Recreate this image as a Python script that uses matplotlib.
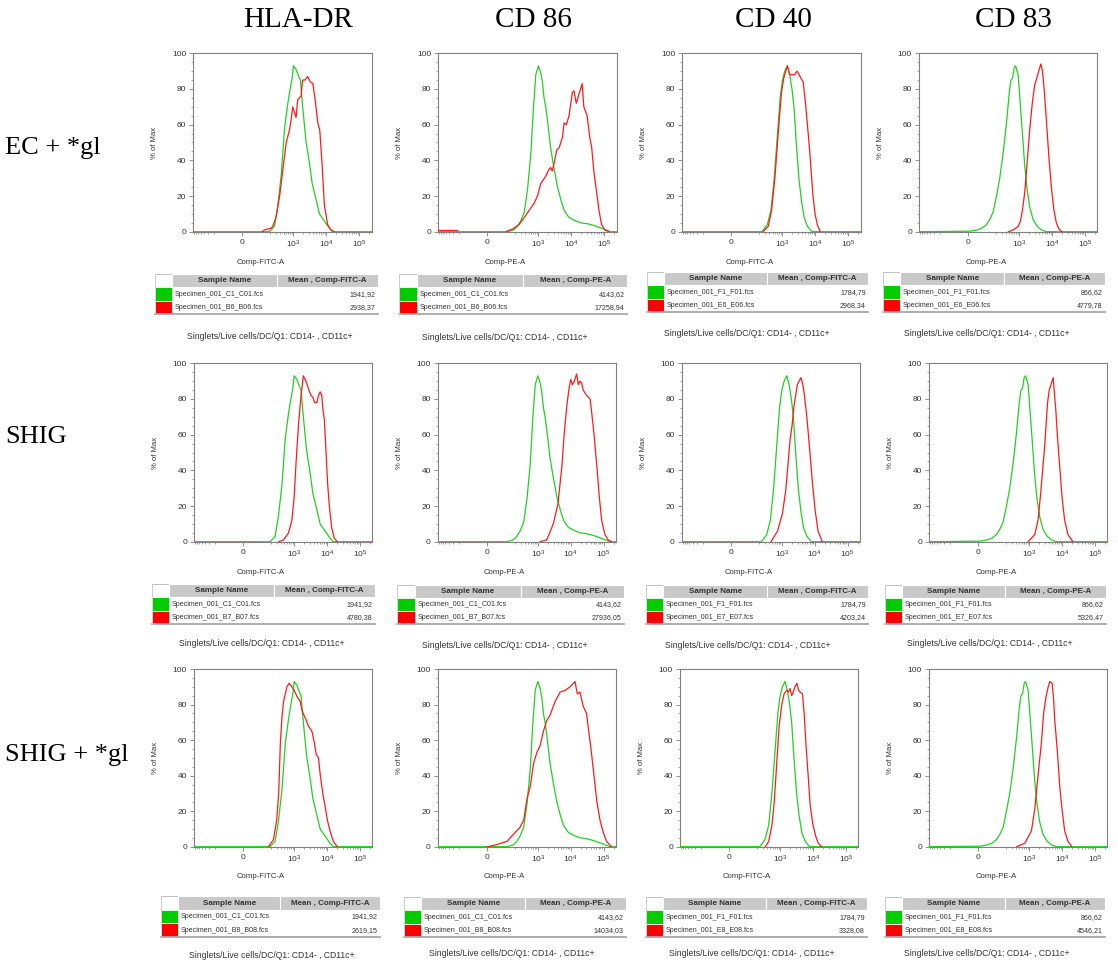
import numpy as np
import matplotlib
matplotlib.use('Agg')
import matplotlib.pyplot as plt
from matplotlib.ticker import MultipleLocator, SymmetricalLogLocator
from matplotlib.patches import Rectangle

# ---------------- data ----------------
markers = ['HLA-DR', 'CD 86', 'CD 40', 'CD 83']
conditions = ['EC + *gl', 'SHIG', 'SHIG + *gl']
channel_labels = ['Comp-FITC-A', 'Comp-PE-A', 'Comp-FITC-A', 'Comp-PE-A']
x_tick_values = [0, 1e3, 1e4, 1e5]
x_tick_labels = ['0', '$10^3$', '$10^4$', '$10^5$']
gate_caption = 'Singlets/Live cells/DC/Q1: CD14- , CD11c+'

# control (green) histograms: log10 intensity and % of max
hla_ctrl_logx = [2.27, 2.42, 2.52, 2.63, 2.73, 2.83, 2.90, 2.96, 3.00, 3.08, 3.16, 3.21, 3.28, 3.38, 3.49, 3.57, 3.69, 3.79, 3.94, 4.09, 4.19]
hla_ctrl_pct = [0, 3, 14, 32, 58, 72, 80, 86, 93, 91, 87, 85, 70, 51, 38, 27, 18, 10, 6, 2, 0]
cd86_ctrl_logx = [2.06, 2.25, 2.36, 2.46, 2.57, 2.67, 2.77, 2.85, 2.92, 3.00, 3.07, 3.12, 3.17, 3.22, 3.29, 3.37, 3.47, 3.58, 3.68, 3.78, 3.93, 4.08, 4.28, 4.48, 4.69, 4.89, 5.09, 5.19]
cd86_ctrl_pct = [0, 1, 3, 6, 11, 24, 44, 70, 88, 93, 89, 84, 75, 70, 60, 47, 36, 25, 18, 12, 8, 6.5, 5, 4.5, 3.5, 2.2, 0.8, 0]
cd40_ctrl_logx = [2.38, 2.54, 2.65, 2.75, 2.85, 2.93, 3.00, 3.07, 3.15, 3.22, 3.29, 3.35, 3.42, 3.50, 3.58, 3.66, 3.76, 3.90]
cd40_ctrl_pct = [0, 4, 12, 30, 55, 75, 85, 90, 93, 88, 80, 70, 50, 30, 17, 8, 3, 0]
cd83_ctrl_logx = [1.10, 1.69, 1.88, 2.01, 2.11, 2.21, 2.31, 2.41, 2.52, 2.62, 2.70, 2.75, 2.80, 2.85, 2.89, 2.97, 3.04, 3.10, 3.17, 3.24, 3.32, 3.42, 3.55, 3.68, 3.83]
cd83_ctrl_pct = [0.3, 1, 2, 4, 7, 11, 20, 30, 45, 62, 78, 85, 86, 92, 93, 88, 70, 55, 37, 24, 14, 7, 3, 1, 0]

# stimulated (red) histograms
hla_ec_logx = [2.05, 2.12, 2.32, 2.37, 2.47, 2.58, 2.68, 2.78, 2.88, 2.93, 2.98, 3.03, 3.08, 3.13, 3.23, 3.28, 3.35, 3.43, 3.51, 3.59, 3.66, 3.74, 3.80, 3.87, 3.94, 4.04, 4.14, 4.24]
hla_ec_pct = [0, 1, 2, 3, 8, 20, 35, 50, 57, 63, 70, 67, 64, 74, 76, 85, 85, 87, 84, 83, 74, 61, 57, 38, 15, 4, 1, 0]
cd86_ec_logx = [2.01, 2.21, 2.41, 2.57, 2.72, 2.87, 2.97, 3.07, 3.22, 3.32, 3.37, 3.42, 3.47, 3.56, 3.63, 3.73, 3.78, 3.85, 3.93, 4.03, 4.08, 4.15, 4.23, 4.33, 4.38, 4.48, 4.56, 4.62, 4.69, 4.77, 4.84, 4.92, 5.02, 5.14]
cd86_ec_pct = [0, 1.5, 4, 8, 12, 16, 20, 27, 31, 35, 36, 34, 38, 46, 47, 53, 61, 60, 65, 78, 79, 72, 77, 83, 70, 65, 53, 47, 33, 22, 12, 4, 1, 0]
cd86_ec_neg_x = [-850, -230]
cd86_ec_neg_pct = [0.8, 0.8]
cd40_ec_logx = [2.41, 2.57, 2.67, 2.77, 2.87, 2.97, 3.04, 3.10, 3.15, 3.22, 3.30, 3.37, 3.44, 3.51, 3.56, 3.63, 3.70, 3.76, 3.83, 3.88, 3.93, 3.99, 4.06, 4.15]
cd40_ec_pct = [0, 3, 12, 30, 55, 78, 86, 90, 93, 88, 88, 88, 90, 88, 86, 84, 72, 60, 45, 32, 20, 10, 4, 0]
cd83_ec_logx = [2.67, 2.82, 2.97, 3.04, 3.10, 3.17, 3.24, 3.32, 3.40, 3.47, 3.55, 3.61, 3.66, 3.71, 3.76, 3.83, 3.90, 3.98, 4.06, 4.13, 4.21, 4.30]
cd83_ec_pct = [0, 1, 3, 6, 12, 22, 38, 57, 72, 82, 87, 91, 94, 90, 80, 62, 43, 25, 12, 5, 1.5, 0]

hla_shig_logx = [2.53, 2.68, 2.83, 2.93, 3.00, 3.06, 3.13, 3.20, 3.28, 3.33, 3.38, 3.43, 3.51, 3.57, 3.62, 3.69, 3.74, 3.79, 3.84, 3.87, 3.92, 3.97, 4.02, 4.07, 4.14, 4.22, 4.31]
hla_shig_pct = [0, 1, 5, 12, 25, 45, 65, 80, 93, 91, 89, 86, 82, 81, 78, 78, 82, 84, 82, 75, 68, 50, 32, 20, 8, 2, 0]
cd86_shig_logx = [3.07, 3.27, 3.47, 3.61, 3.73, 3.80, 3.88, 3.95, 4.00, 4.05, 4.11, 4.18, 4.23, 4.28, 4.33, 4.38, 4.48, 4.59, 4.64, 4.71, 4.79, 4.87, 4.94, 5.04, 5.14, 5.24]
cd86_shig_pct = [0, 1, 10, 21, 42, 60, 76, 86, 91, 88, 90, 94, 88, 90, 89, 85, 82, 80, 72, 60, 43, 25, 12, 4, 1, 0]
cd40_shig_logx = [2.67, 2.87, 3.02, 3.12, 3.19, 3.25, 3.31, 3.37, 3.47, 3.58, 3.63, 3.68, 3.76, 3.85, 3.93, 4.01, 4.10, 4.23]
cd40_shig_pct = [0, 6, 16, 29, 44, 57, 65, 76, 88, 92, 89, 83, 70, 51, 33, 18, 6, 0]
cd83_shig_logx = [2.97, 3.17, 3.27, 3.34, 3.40, 3.47, 3.56, 3.61, 3.68, 3.73, 3.76, 3.81, 3.86, 3.93, 4.00, 4.08, 4.18, 4.33]
cd83_shig_pct = [0, 4, 12, 25, 38, 53, 78, 85, 89, 92, 85, 74, 59, 42, 25, 12, 4, 0]

hla_shiggl_logx = [2.22, 2.37, 2.47, 2.53, 2.58, 2.63, 2.68, 2.78, 2.85, 2.93, 3.00, 3.10, 3.18, 3.25, 3.35, 3.43, 3.54, 3.61, 3.67, 3.74, 3.79, 3.87, 3.94, 4.01, 4.09, 4.19, 4.31]
hla_shiggl_pct = [0, 4, 15, 30, 58, 73, 82, 90, 92, 90, 88, 84, 82, 76, 72, 68, 65, 59, 52, 50, 41, 30, 23, 15, 9, 3, 0]
cd86_shiggl_logx = [0.56, 1.69, 2.06, 2.26, 2.46, 2.57, 2.67, 2.77, 2.87, 2.97, 3.07, 3.17, 3.27, 3.37, 3.53, 3.68, 3.83, 3.98, 4.13, 4.20, 4.28, 4.38, 4.48, 4.54, 4.61, 4.69, 4.79, 4.89, 4.99, 5.09, 5.24]
cd86_shiggl_pct = [0, 1, 3, 7, 11, 15, 27, 34, 47, 53, 57, 65, 71, 74, 82, 87, 88, 90, 93, 86, 87, 79, 75, 66, 56, 43, 26, 15, 8, 3, 0]
cd40_shiggl_logx = [2.55, 2.65, 2.75, 2.82, 2.90, 2.97, 3.05, 3.12, 3.20, 3.25, 3.30, 3.35, 3.40, 3.45, 3.51, 3.56, 3.61, 3.68, 3.73, 3.79, 3.86, 3.91, 3.99, 4.08, 4.16, 4.26]
cd40_shiggl_pct = [0, 3, 12, 25, 48, 68, 80, 86, 88, 87, 89, 85, 87, 90, 92, 88, 87, 86, 75, 56, 38, 24, 13, 6, 2, 0]
cd83_shiggl_logx = [2.62, 2.87, 3.07, 3.17, 3.27, 3.37, 3.44, 3.51, 3.58, 3.63, 3.70, 3.74, 3.78, 3.86, 3.93, 4.00, 4.08, 4.18, 4.30]
cd83_shiggl_pct = [0, 2, 9, 21, 40, 58, 75, 84, 90, 93, 92, 84, 71, 53, 34, 21, 9, 3, 0]

# table contents
ctrl_files = ['Specimen_001_C1_C01.fcs', 'Specimen_001_C1_C01.fcs', 'Specimen_001_F1_F01.fcs', 'Specimen_001_F1_F01.fcs']
ctrl_means = [1941.92, 4143.62, 1784.79, 866.62]
stim_files = [
    ['Specimen_001_B6_B06.fcs', 'Specimen_001_B6_B06.fcs', 'Specimen_001_E6_E06.fcs', 'Specimen_001_E6_E06.fcs'],
    ['Specimen_001_B7_B07.fcs', 'Specimen_001_B7_B07.fcs', 'Specimen_001_E7_E07.fcs', 'Specimen_001_E7_E07.fcs'],
    ['Specimen_001_B8_B08.fcs', 'Specimen_001_B8_B08.fcs', 'Specimen_001_E8_E08.fcs', 'Specimen_001_E8_E08.fcs'],
]
stim_means = [
    [2938.37, 17258.94, 2968.34, 4779.78],
    [4780.38, 27936.05, 4203.24, 5326.47],
    [2619.15, 14034.03, 3328.08, 4546.21],
]

ctrl_curves = [(hla_ctrl_logx, hla_ctrl_pct), (cd86_ctrl_logx, cd86_ctrl_pct),
               (cd40_ctrl_logx, cd40_ctrl_pct), (cd83_ctrl_logx, cd83_ctrl_pct)]
stim_curves = [
    [(hla_ec_logx, hla_ec_pct), (cd86_ec_logx, cd86_ec_pct), (cd40_ec_logx, cd40_ec_pct), (cd83_ec_logx, cd83_ec_pct)],
    [(hla_shig_logx, hla_shig_pct), (cd86_shig_logx, cd86_shig_pct), (cd40_shig_logx, cd40_shig_pct), (cd83_shig_logx, cd83_shig_pct)],
    [(hla_shiggl_logx, hla_shiggl_pct), (cd86_shiggl_logx, cd86_shiggl_pct), (cd40_shiggl_logx, cd40_shiggl_pct), (cd83_shiggl_logx, cd83_shiggl_pct)],
]

# ---------------- style / layout ----------------
plt.rcParams['font.family'] = ['Liberation Sans', 'DejaVu Sans']
plt.rcParams['mathtext.fontset'] = 'custom'
plt.rcParams['mathtext.rm'] = 'Liberation Sans'
plt.rcParams['mathtext.it'] = 'Liberation Sans:italic'
plt.rcParams['mathtext.bf'] = 'Liberation Sans:bold'

GREEN = '#22d022'
RED = '#ff1a1a'
SW_GREEN = '#00cc00'
SW_RED = '#ff0000'
SPINE = '#808080'
TXT = '#333333'

W, H = 1118, 963
fig = plt.figure(figsize=(W / 100, H / 100), dpi=100)


def frect(x0, y0, x1, y1):
    return [x0 / W, 1 - y1 / H, (x1 - x0) / W, (y1 - y0) / H]


ax_tops = [53.3, 363.3, 669.0]
ax_bots = [231.7, 541.7, 846.7]
ax_lefts = [[193.3, 438.3, 682.3, 919.0],
            [194.0, 437.7, 681.7, 929.0],
            [194.0, 437.7, 680.0, 929.0]]
AXW = 178.4

table_boxes = [
    [(155, 378, 274, 314), (399, 627, 274, 314), (647, 868, 272, 312), (883, 1105, 272, 312)],
    [(152, 375, 584, 624), (397, 624, 585, 624), (646, 868, 585, 624), (885, 1106, 585, 624)],
    [(161, 380, 896, 937), (404, 626, 897, 937), (646, 867, 897, 937), (885, 1105, 897, 937)],
]
caption_pos = [
    [(270, 336), (505, 338), (747, 334), (987, 333)],
    [(262, 644), (505, 645), (748, 645), (990, 644)],
    [(272, 955), (512, 953), (752, 953), (987, 953)],
]
title_pos = [(298, 20), (533, 20), (773, 20), (1013, 20)]
row_label_y = [148, 437, 755]

XLO, XHI = -860, 10 ** 5.38


def fmt_mean(v):
    return f'{v:.2f}'.replace('.', ',')


def draw_table(box, header, rows):
    x0, x1, y0, y1 = box
    tax = fig.add_axes(frect(x0, y0, x1, y1))
    tax.set_xlim(0, 1)
    tax.set_ylim(3, 0)
    tax.axis('off')
    c1, c2 = 0.078, 0.545
    tax.add_patch(Rectangle((0, 0), c1, 1, fc='white', ec='#b5b5b5', lw=0.6))
    tax.add_patch(Rectangle((c1, 0), c2 - c1, 1, fc='#c9c9c9', ec='white', lw=0.8))
    tax.add_patch(Rectangle((c2, 0), 1 - c2, 1, fc='#c9c9c9', ec='white', lw=0.8))
    tax.text((c1 + c2) / 2, 0.52, 'Sample Name', ha='center', va='center',
             fontsize=5.9, fontweight='bold', color=TXT)
    tax.text((c2 + 1) / 2, 0.52, header, ha='center', va='center',
             fontsize=5.8, fontweight='bold', color=TXT)
    for i, (col, name, val) in enumerate(rows):
        yy = i + 1
        tax.add_patch(Rectangle((0, yy), c1, 1, fc=col, ec='white', lw=0.6))
        tax.text(c1 + 0.012, yy + 0.52, name, ha='left', va='center', fontsize=5.1, color=TXT)
        tax.text(0.99, yy + 0.52, val, ha='right', va='center', fontsize=5.1, color=TXT)
    tax.plot([0, 1], [3, 3], color='#a8a8a8', lw=1.3, clip_on=False)
    tax.plot([0, 0], [0, 3], color='#d0d0d0', lw=0.6, clip_on=False)


for r in range(3):
    for c in range(4):
        left = ax_lefts[r][c]
        ax = fig.add_axes(frect(left, ax_tops[r], left + AXW, ax_bots[r]))
        ax.set_xscale('symlog', linthresh=100, linscale=0.5)
        ax.set_xlim(XLO, XHI)
        ax.set_ylim(0, 100)

        gx, gy = ctrl_curves[c]
        rx, ry = stim_curves[r][c]
        gxx = np.r_[XLO, 10 ** np.asarray(gx), XHI]
        gyy = np.r_[0, gy, 0]
        ax.plot(gxx, gyy, color=GREEN, lw=0.9, zorder=3)
        ax.plot(10 ** np.asarray(rx), ry, color=RED, lw=0.9, zorder=4)
        if r == 0 and c == 1:
            ax.plot(cd86_ec_neg_x, cd86_ec_neg_pct, color=RED, lw=0.9, zorder=4)

        ax.set_xticks(x_tick_values)
        ax.set_xticklabels(x_tick_labels)
        ax.xaxis.set_minor_locator(SymmetricalLogLocator(base=10, linthresh=100, subs=np.arange(2, 10)))
        ax.set_yticks([0, 20, 40, 60, 80, 100])
        ax.yaxis.set_minor_locator(MultipleLocator(5))
        ax.tick_params(which='major', length=3, width=0.6, color=SPINE, labelsize=6,
                       labelcolor=TXT, pad=2)
        ax.tick_params(which='minor', length=1.6, width=0.5, color=SPINE)
        for s in ax.spines.values():
            s.set_color(SPINE)
            s.set_linewidth(0.8)

        ax.set_xlabel(channel_labels[c], fontsize=5.6, color=TXT)
        ax.xaxis.set_label_coords(0.375, -0.17)
        ax.xaxis.label.set_va('center')
        ax.set_ylabel('% of Max', fontsize=5.6, color=TXT)
        ax.yaxis.set_label_coords(-0.215, 0.5)
        ax.yaxis.label.set_va('center')

        rows = [(SW_GREEN, ctrl_files[c], fmt_mean(ctrl_means[c])),
                (SW_RED, stim_files[r][c], fmt_mean(stim_means[r][c]))]
        draw_table(table_boxes[r][c], 'Mean , ' + channel_labels[c], rows)

        cx, cy = caption_pos[r][c]
        fig.text(cx / W, 1 - cy / H, gate_caption, ha='center', va='center', fontsize=6.2, color=TXT)

for c, (tx, ty) in enumerate(title_pos):
    fig.text(tx / W, 1 - ty / H, markers[c], ha='center', va='center',
             fontsize=21, family=['Liberation Serif', 'DejaVu Serif'], color='black')
for r, y in enumerate(row_label_y):
    fig.text(5 / W, 1 - y / H, conditions[r], ha='left', va='center',
             fontsize=19, family=['Liberation Serif', 'DejaVu Serif'], color='black')

fig.savefig('out.png', dpi=100, facecolor='white')
